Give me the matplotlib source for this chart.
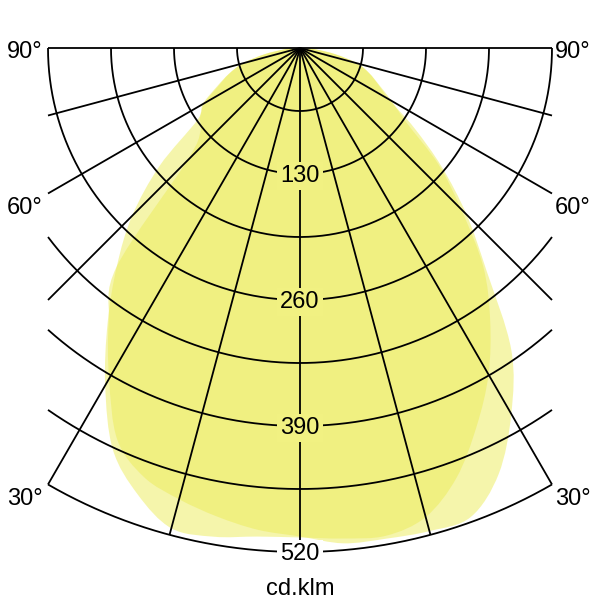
import numpy as np
import matplotlib
matplotlib.use("Agg")
import matplotlib.pyplot as plt
from matplotlib.path import Path
from matplotlib.patches import PathPatch

plt.rcParams['font.family'] = ['Liberation Sans', 'DejaVu Sans']

# ---- data (cd/klm) ----
gamma = list(range(-90, 95, 5))  # degrees from nadir, negative = left
I_plane_a = [0, 15.5, 37, 61, 78, 95, 116, 129, 189, 245, 294, 346, 402, 457, 490, 513, 512, 506,
             505,
             508, 511, 501, 472, 431, 389, 342, 294, 235, 186, 134, 109, 90, 76, 61, 37, 15.5, 0]
I_plane_b = [0, 15.5, 37, 61, 78, 93, 114, 126, 134, 165, 294, 344, 394, 446, 471, 482, 491, 499,
             504,
             513, 514, 516, 515, 485, 436, 380, 299, 243, 191, 144, 106, 89, 76, 61, 37, 15.5, 0]
ring_values = [65, 130, 195, 260, 325, 390, 455, 520]
ring_labels = [130, 260, 390, 520]
angle_labels = [90, 60, 30]
unit_label = "cd.klm"

# ---- layout ----
K = 252.0 / 260.0          # pixels per cd/klm
R_MAX = 520.0
X_CLIP = 260.0

def px_y(py):
    return -(py - 48.0) / K

def px_x(px):
    return (px - 300.0) / K

def smooth_path(xs, ys):
    """Closed path through the points using Catmull-Rom style Bezier segments."""
    P = np.column_stack([xs, ys])
    n = len(P)
    verts = [P[0]]
    codes = [Path.MOVETO]
    for i in range(n - 1):
        p0 = P[i - 1] if i > 0 else P[i]
        p1 = P[i]
        p2 = P[i + 1]
        p3 = P[i + 2] if i + 2 < n else P[i + 1]
        c1 = p1 + (p2 - p0) / 6.0
        c2 = p2 - (p3 - p1) / 6.0
        verts += [c1, c2, p2]
        codes += [Path.CURVE4] * 3
    verts.append(P[0])
    codes.append(Path.CLOSEPOLY)
    return Path(np.array(verts), codes)

fig = plt.figure(figsize=(6, 6), dpi=100)
ax = fig.add_axes([0, 0, 1, 1])
ax.set_xlim(px_x(0), px_x(600))
ax.set_ylim(px_y(600), px_y(0))
ax.axis('off')

base = np.array([236, 236, 88]) / 255.0
alpha = 0.5
dark = 1 - (1 - (1 - alpha) ** 2) * (1 - base)

g = np.radians(np.array(gamma, dtype=float))
for I in (I_plane_a, I_plane_b):
    I = np.array(I, dtype=float)
    path = smooth_path(I * np.sin(g), -I * np.cos(g))
    ax.add_patch(PathPatch(path, facecolor=base, alpha=alpha, lw=0, zorder=1))

lw = 1.3
for r in ring_values:
    gmax = 90.0 if r <= X_CLIP else np.degrees(np.arcsin(X_CLIP / r))
    t = np.radians(np.linspace(-gmax, gmax, 600))
    ax.plot(r * np.sin(t), -r * np.cos(t), color='black', lw=lw, zorder=2,
            solid_capstyle='butt')

for a in range(-90, 91, 15):
    rmax = R_MAX if abs(a) <= 30 else X_CLIP / np.sin(np.radians(abs(a)))
    t = np.radians(a)
    ax.plot([0, rmax * np.sin(t)], [0, -rmax * np.cos(t)], color='black', lw=lw, zorder=2,
            solid_capstyle='butt')

fs = 17
for r in ring_labels:
    fc = 'white' if r == 520 else dark
    ax.text(0, -r - 2 / K, str(r), ha='center', va='center', fontsize=fs, zorder=3,
            bbox=dict(boxstyle='square,pad=0.12', fc=fc, ec='none'))

label_y_px = {90: 51.5, 60: 208.5, 30: 499}
for a in angle_labels:
    y = px_y(label_y_px[a])
    ax.text(px_x(43), y, f"{a}°", ha='right', va='center', fontsize=fs, zorder=3)
    ax.text(px_x(555), y, f"{a}°", ha='left', va='center', fontsize=fs, zorder=3)

ax.text(0, px_y(595), unit_label, ha='center', va='baseline', fontsize=17, zorder=3)

fig.savefig("out.png", dpi=100)
